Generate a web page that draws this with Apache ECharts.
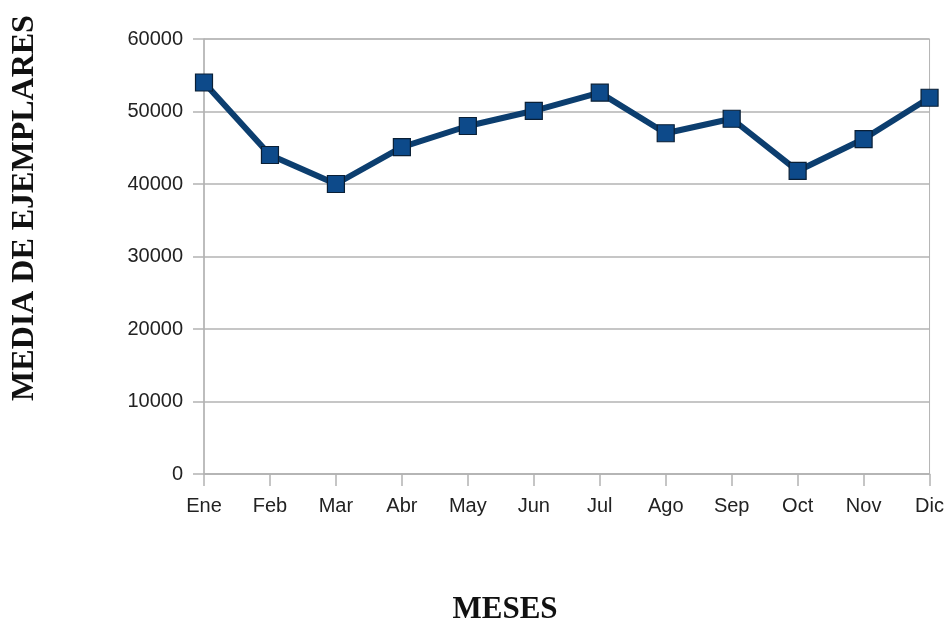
<!DOCTYPE html>
<html>
<head>
<meta charset="utf-8">
<script src="https://cdn.jsdelivr.net/npm/echarts@6/dist/echarts.min.js"></script>
<style>
html,body{margin:0;padding:0;background:#fff;overflow:hidden;}
#chart{width:947px;height:624px;}
</style>
</head>
<body>
<div id="chart"></div>
<script>
var months = ['Ene','Feb','Mar','Abr','May','Jun','Jul','Ago','Sep','Oct','Nov','Dic'];
var values = [54000, 44000, 40000, 45100, 48000, 50100, 52600, 47000, 49000, 41800, 46200, 51900];
var yTitle = 'MEDIA DE EJEMPLARES';
var xTitle = 'MESES';

var chart = echarts.init(document.getElementById('chart'), null, {renderer:'canvas'});
var gray = '#b3b3b3';
chart.setOption({
  animation: false,
  backgroundColor: '#fff',
  grid: {left: 204, right: 12, top: 39, bottom: 150, show: true, borderColor: gray, borderWidth: 1},
  xAxis: {
    type: 'category',
    data: months,
    boundaryGap: false,
    axisLine: {lineStyle: {color: gray, width: 1.5}},
    axisTick: {show: true, alignWithLabel: true, length: 12, lineStyle: {color: gray, width: 1.5}},
    axisLabel: {color: '#222', fontFamily: 'Liberation Sans', fontSize: 20, margin: 22}
  },
  yAxis: {
    type: 'value',
    min: 0, max: 60000, interval: 10000,
    axisLine: {show: true, lineStyle: {color: gray, width: 1.5}},
    axisTick: {show: true, length: 11, lineStyle: {color: gray, width: 1.5}},
    splitLine: {show: true, lineStyle: {color: gray, width: 1.5}},
    axisLabel: {color: '#222', fontFamily: 'Liberation Sans', fontSize: 20, margin: 21,
      formatter: function (v) { return String(v); }}
  },
  series: [{
    type: 'line',
    data: values,
    symbol: 'rect',
    symbolSize: 17,
    lineStyle: {color: '#0c3e6f', width: 6},
    itemStyle: {color: '#0d4a8a', borderColor: '#0a1f35', borderWidth: 1.2},
    z: 5
  }],
  graphic: [
    {type: 'text', x: 25, y: 208, rotation: Math.PI/2,
      style: {text: yTitle, font: 'bold 32px "Liberation Serif"', fill: '#111', align: 'center', verticalAlign: 'middle'}},
    {type: 'text', x: 505, y: 610,
      style: {text: xTitle, font: 'bold 31px "Liberation Serif"', fill: '#111', align: 'center', verticalAlign: 'middle'}}
  ]
});
</script>
</body>
</html>
